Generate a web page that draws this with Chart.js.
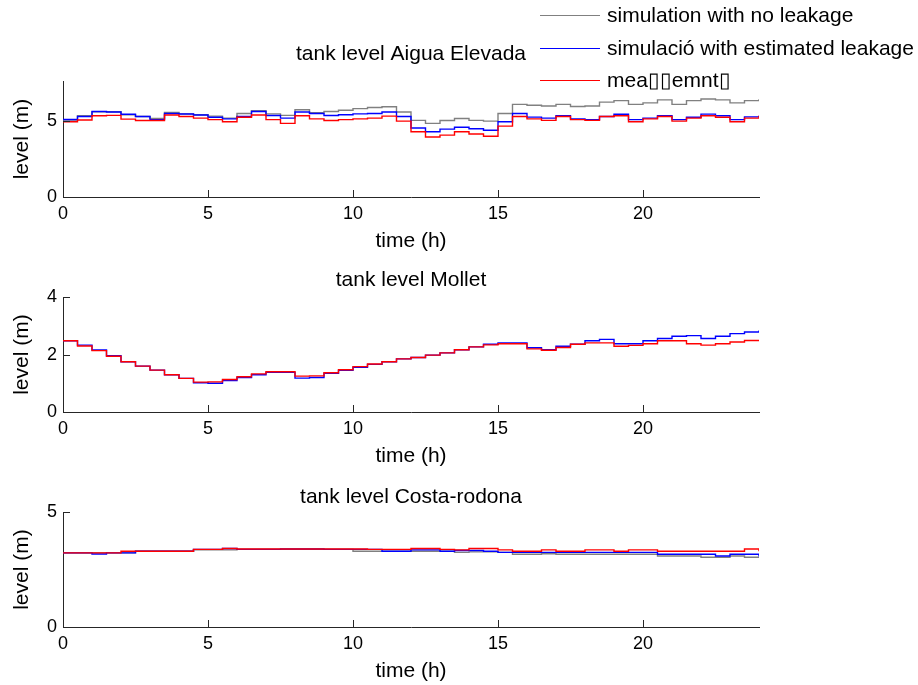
<!DOCTYPE html>
<html>
<head>
<meta charset="utf-8">
<title>tank levels</title>
<script src="https://cdn.jsdelivr.net/npm/chart.js@4.4.1/dist/chart.umd.min.js"></script>
<style>
  html, body { margin: 0; padding: 0; background: #fff; }
  #wrap { position: relative; width: 918px; height: 685px; overflow: hidden; }
  .panel { position: absolute; left: 0; }
  #legend { position: absolute; left: 0; top: 0; width: 918px; height: 100px;
            font: 21px "Liberation Sans", Arial, sans-serif; color: #000; z-index: 5; }
  .item { position: absolute; left: 540px; height: 26px; line-height: 26px; white-space: nowrap; }
  .item .swatch { position: absolute; left: 0; top: 13px; width: 60px; height: 1px; }
  .item .text { position: absolute; left: 67px; top: 0; }
</style>
</head>
<body>
<div id="wrap">
  <canvas id="aigua" class="panel" width="918" height="230" style="top:30px"></canvas>
  <canvas id="mollet" class="panel" width="918" height="216" style="top:255px"></canvas>
  <canvas id="costa" class="panel" width="918" height="213" style="top:472px"></canvas>
  <div id="legend"></div>
</div>
<script>
// time axis (h), one reading every half hour
const hours = [0, 0.5, 1, 1.5, 2, 2.5, 3, 3.5, 4, 4.5, 5, 5.5, 6, 6.5, 7, 7.5, 8, 8.5, 9, 9.5,
  10, 10.5, 11, 11.5, 12, 12.5, 13, 13.5, 14, 14.5, 15, 15.5, 16, 16.5, 17, 17.5, 18, 18.5, 19, 19.5,
  20, 20.5, 21, 21.5, 22, 22.5, 23, 23.5, 24];
const xTicks = [0, 5, 10, 15, 20];

const seriesLabels = ["simulation with no leakage", "simulació with estimated leakage", "mea\u25AF\u25AFemnt\u25AF"];

// tank level Aigua Elevada (m)
const aiguaNoLeak = [5.07, 5.35, 5.61, 5.62, 5.42, 5.30, 5.18, 5.57, 5.48, 5.42,
  5.33, 5.20, 5.50, 5.68, 5.48, 5.38, 5.75, 5.55, 5.63, 5.72,
  5.82, 5.90, 5.95, 5.60, 5.05, 4.85, 5.04, 5.17, 5.05, 5.00,
  5.50, 6.10, 6.05, 6.00, 6.10, 5.96, 6.00, 6.25, 6.35, 6.10,
  6.20, 6.40, 6.10, 6.35, 6.46, 6.40, 6.20, 6.35, 6.44];
const aiguaEstLeak = [5.11, 5.30, 5.63, 5.60, 5.45, 5.30, 5.10, 5.50, 5.47, 5.40,
  5.25, 5.15, 5.30, 5.63, 5.37, 5.20, 5.60, 5.50, 5.37, 5.42,
  5.48, 5.50, 5.60, 5.30, 4.55, 4.30, 4.47, 4.60, 4.50, 4.40,
  4.96, 5.50, 5.26, 5.20, 5.35, 5.15, 5.10, 5.30, 5.45, 5.10,
  5.20, 5.35, 5.10, 5.25, 5.46, 5.35, 5.10, 5.28, 5.35];
const aiguaMeasured = [4.96, 5.07, 5.35, 5.38, 5.13, 5.04, 5.04, 5.40, 5.30, 5.20,
  5.10, 4.96, 5.25, 5.40, 5.10, 4.85, 5.35, 5.15, 5.04, 5.10,
  5.15, 5.20, 5.33, 5.00, 4.30, 3.95, 4.08, 4.30, 4.15, 4.00,
  4.67, 5.30, 5.15, 5.05, 5.30, 5.10, 5.05, 5.30, 5.35, 4.96,
  5.15, 5.30, 5.00, 5.20, 5.35, 5.25, 4.96, 5.20, 5.35];

// tank level Mollet (m)
const molletEstLeak = [2.48, 2.33, 2.16, 1.96, 1.75, 1.60, 1.46, 1.30, 1.17, 1.02,
  1.00, 1.10, 1.20, 1.30, 1.38, 1.38, 1.18, 1.20, 1.35, 1.45,
  1.56, 1.66, 1.75, 1.85, 1.90, 1.98, 2.06, 2.17, 2.27, 2.36,
  2.41, 2.41, 2.24, 2.17, 2.29, 2.36, 2.48, 2.53, 2.38, 2.38,
  2.48, 2.56, 2.64, 2.66, 2.56, 2.64, 2.73, 2.79, 2.84];
const molletMeasured = [2.48, 2.30, 2.14, 1.94, 1.75, 1.60, 1.46, 1.30, 1.17, 1.04,
  1.05, 1.13, 1.23, 1.33, 1.40, 1.40, 1.25, 1.26, 1.37, 1.47,
  1.58, 1.67, 1.75, 1.85, 1.90, 1.98, 2.06, 2.17, 2.27, 2.34,
  2.38, 2.38, 2.20, 2.15, 2.25, 2.36, 2.41, 2.41, 2.29, 2.32,
  2.38, 2.48, 2.48, 2.38, 2.33, 2.38, 2.44, 2.49, 2.49];

// tank level Costa-rodona (m)
const costaNoLeak = [3.23, 3.23, 3.23, 3.23, 3.23, 3.30, 3.30, 3.30, 3.30, 3.36,
  3.36, 3.36, 3.38, 3.38, 3.38, 3.38, 3.38, 3.38, 3.38, 3.38,
  3.30, 3.30, 3.30, 3.30, 3.30, 3.30, 3.30, 3.25, 3.27, 3.27,
  3.25, 3.17, 3.17, 3.19, 3.17, 3.17, 3.17, 3.17, 3.17, 3.17,
  3.17, 3.09, 3.09, 3.09, 3.04, 3.04, 3.09, 3.04, 3.04];
const costaEstLeak = [3.23, 3.23, 3.18, 3.23, 3.23, 3.30, 3.30, 3.30, 3.30, 3.38,
  3.38, 3.42, 3.38, 3.38, 3.38, 3.40, 3.40, 3.40, 3.38, 3.38,
  3.38, 3.38, 3.30, 3.30, 3.36, 3.36, 3.30, 3.33, 3.33, 3.30,
  3.25, 3.25, 3.25, 3.25, 3.25, 3.25, 3.25, 3.25, 3.25, 3.25,
  3.25, 3.17, 3.17, 3.17, 3.17, 3.09, 3.17, 3.17, 3.07];
const costaMeasured = [3.23, 3.23, 3.23, 3.23, 3.30, 3.30, 3.30, 3.30, 3.30, 3.38,
  3.38, 3.42, 3.40, 3.40, 3.40, 3.40, 3.40, 3.40, 3.40, 3.40,
  3.40, 3.38, 3.38, 3.38, 3.42, 3.42, 3.38, 3.36, 3.42, 3.42,
  3.36, 3.30, 3.30, 3.36, 3.30, 3.30, 3.36, 3.36, 3.30, 3.36,
  3.36, 3.30, 3.30, 3.30, 3.30, 3.30, 3.30, 3.40, 3.30];

const FONT = '"Liberation Sans", Arial, sans-serif';
const AXIS_COLOR = "#262626";
const COLORS = ["#808080", "#0000ff", "#ff0000"];

// matlab style: short tick marks pointing into the axes
const inwardTicks = {
  id: "inward-ticks",
  afterDraw(chart) {
    const { ctx, chartArea, scales } = chart;
    ctx.save();
    ctx.strokeStyle = AXIS_COLOR;
    ctx.lineWidth = 1;
    ctx.beginPath();
    scales.x.ticks.forEach(t => {
      const px = Math.round(scales.x.getPixelForValue(t.value)) + 0.5;
      ctx.moveTo(px, chartArea.bottom);
      ctx.lineTo(px, chartArea.bottom - 7);
    });
    scales.y.ticks.forEach(t => {
      const py = Math.round(scales.y.getPixelForValue(t.value)) + 0.5;
      ctx.moveTo(chartArea.left, py);
      ctx.lineTo(chartArea.left + 7, py);
    });
    ctx.stroke();
    ctx.restore();
  },
};

function makeDataset(idx, values) {
  return {
    label: seriesLabels[idx],
    data: hours.map((h, i) => ({ x: h, y: values[i] })),
    borderColor: COLORS[idx],
    borderWidth: 1.4,
    pointRadius: 0,
    stepped: true,
    fill: false,
    order: 3 - idx,
  };
}

function createPanel(id, title, yMax, yTicks, datasets, pad) {
  const ctx = document.getElementById(id).getContext("2d");
  return new Chart(ctx, {
    type: "line",
    data: { datasets },
    options: {
      responsive: false,
      animation: false,
      events: [],
      layout: { padding: { left: 0, right: 159, top: pad.top, bottom: pad.bottom } },
      plugins: {
        legend: { display: false },
        tooltip: { enabled: false },
        title: {
          display: true,
          text: title,
          color: "#000",
          fullSize: false,
          font: { family: FONT, size: 21, weight: "normal" },
          padding: { top: 0, bottom: pad.title },
        },
      },
      scales: {
        x: {
          type: "linear",
          min: 0,
          max: 24,
          grid: { display: false, drawTicks: false },
          border: { color: AXIS_COLOR },
          afterBuildTicks: s => { s.ticks = xTicks.map(v => ({ value: v })); },
          afterFit: s => { s.height = 57; },
          ticks: { color: "#000", font: { family: FONT, size: 18 }, padding: 6, maxRotation: 0 },
          title: { display: true, text: "time (h)", color: "#000",
                   font: { family: FONT, size: 21 }, padding: { top: 0, bottom: 0 } },
        },
        y: {
          min: 0,
          max: yMax,
          grid: { display: false, drawTicks: false },
          border: { color: AXIS_COLOR },
          afterBuildTicks: s => { s.ticks = yTicks.map(v => ({ value: v })); },
          afterFit: s => { s.width = 63; },
          ticks: { color: "#000", font: { family: FONT, size: 18 }, padding: 6 },
          title: { display: true, text: "level (m)", color: "#000",
                   font: { family: FONT, size: 21 }, padding: { top: 10, bottom: 0 } },
        },
      },
    },
    plugins: [inwardTicks],
  });
}

function buildLegend() {
  const box = document.getElementById("legend");
  const centers = [15, 48, 80];
  seriesLabels.forEach((label, i) => {
    const item = document.createElement("div");
    item.className = "item";
    item.style.top = (centers[i] - 13) + "px";
    const sw = document.createElement("div");
    sw.className = "swatch";
    sw.style.background = COLORS[i];
    const txt = document.createElement("span");
    txt.className = "text";
    txt.textContent = label;
    item.appendChild(sw);
    item.appendChild(txt);
    box.appendChild(item);
  });
}

function main() {
  createPanel("aigua", "tank level Aigua Elevada", 7.63, [0, 5], [
    makeDataset(0, aiguaNoLeak),
    makeDataset(1, aiguaEstLeak),
    makeDataset(2, aiguaMeasured),
  ], { top: 12, title: 14, bottom: 6 });

  createPanel("mollet", "tank level Mollet", 4, [0, 2, 4], [
    makeDataset(1, molletEstLeak),
    makeDataset(2, molletMeasured),
  ], { top: 13, title: 4, bottom: 2 });

  createPanel("costa", "tank level Costa-rodona", 5, [0, 5], [
    makeDataset(0, costaNoLeak),
    makeDataset(1, costaEstLeak),
    makeDataset(2, costaMeasured),
  ], { top: 13, title: 2, bottom: 1 });

  buildLegend();
}

main();
</script>
</body>
</html>
